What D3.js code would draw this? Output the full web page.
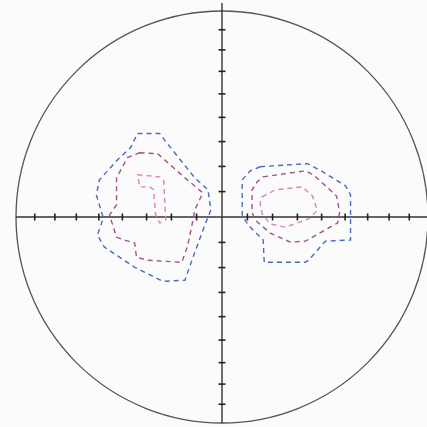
<!DOCTYPE html>
<html>
<head>
<meta charset="utf-8">
<script src="https://cdn.jsdelivr.net/npm/d3@7"></script>
<style>
html,body{margin:0;padding:0;background:#fbfbfb;}
svg{display:block;}
</style>
</head>
<body>
<svg id="chart" width="427" height="427"></svg>
<script>
// Tick marks: angular distance (deg) from the net centre, equal-area spacing
const tickAngles = [10, 20, 30, 40, 50, 60, 70, 80];

// Contour polygons in net units (-100..100, x east, y north)
const leftOuter = [[-41.0,40.5],[-30.2,40.5],[-27.3,36.6],[-13.2,19.0],[-6.8,13.2],[-5.4,3.4],[-8.3,-3.9],[-13.2,-17.1],[-18.0,-30.7],[-28.8,-31.2],[-42.4,-24.4],[-57.1,-14.6],[-60.5,-8.8],[-57.6,-0.5],[-61.0,10.7],[-59.5,18.0],[-50.7,27.8],[-44.4,33.7]];
const leftMiddle = [[-40.0,31.2],[-31.2,30.7],[-18.0,19.0],[-9.3,11.7],[-13.2,3.4],[-14.1,-1.5],[-16.6,-13.7],[-19.5,-22.0],[-36.1,-21.0],[-41.5,-19.5],[-42.4,-12.7],[-47.3,-11.2],[-51.2,-9.8],[-54.6,1.0],[-51.2,5.9],[-51.2,19.0],[-45.9,28.8]];
const leftInner = [[-41.0,20.5],[-30.2,19.5],[-28.3,17.6],[-27.3,-1.5],[-30.2,-2.9],[-32.2,1.0],[-33.2,13.2],[-35.1,14.6],[-40.0,14.6]];
const rightOuter = [[18.5,24.4],[41.5,25.9],[48.8,22.0],[60.0,15.1],[62.4,10.7],[62.4,-11.2],[50.2,-11.7],[42.0,-21.0],[40.5,-22.0],[20.5,-22.0],[20.0,-11.2],[12.7,-3.9],[9.8,1.0],[9.8,18.0],[13.7,22.4]];
const rightMiddle = [[20.0,19.5],[40.5,22.4],[44.4,20.5],[55.6,10.2],[57.1,2.4],[56.1,-2.9],[43.9,-9.8],[40.5,-11.7],[33.2,-12.2],[23.4,-7.8],[16.1,-1.5],[14.6,2.4],[14.6,13.2],[17.1,17.1]];
const rightInner = [[19.5,9.8],[25.9,13.2],[39.0,14.6],[43.9,10.2],[46.3,3.4],[42.9,-0.5],[38.0,-2.4],[30.7,-4.9],[23.4,-3.4],[19.5,1.5],[18.5,6.8]];

const levels = ["outer","middle","inner"];
const levelColors = ["#4a68c4","#a4508e","#d884c6"];

const W = 427, H = 427;
const cx = 222, cy = 217, R = 206;
const svg = d3.select("#chart");

const x = d3.scaleLinear().domain([-100,100]).range([cx-R, cx+R]);
const y = d3.scaleLinear().domain([-100,100]).range([cy+R, cy-R]);
const color = d3.scaleOrdinal().domain(levels).range(levelColors);

// equal-area radial fraction for an angle from the centre
const eqArea = a => Math.SQRT2 * Math.sin((90 - a) * Math.PI / 360) ;
// (90 - a) is angle from the primitive; we want distance from centre for plunge 90-a
const tickFrac = tickAngles.map(a => 100 * Math.SQRT2 * Math.sin(a * Math.PI / 360));

const g = svg.append("g");

// primitive circle
g.append("circle").attr("cx", cx).attr("cy", cy).attr("r", R)
  .attr("fill", "none").attr("stroke", "#555").attr("stroke-width", 1.3);

// axes
g.append("line").attr("x1", x(-100)).attr("x2", W).attr("y1", y(0)).attr("y2", y(0))
  .attr("stroke", "#333").attr("stroke-width", 1.4);
g.append("line").attr("x1", x(0)).attr("x2", x(0)).attr("y1", 3).attr("y2", y(-100))
  .attr("stroke", "#333").attr("stroke-width", 1.4);

// ticks
const tk = 3.5;
const hTicks = tickFrac.flatMap(f => [f, -f]);
g.selectAll(".ht").data(hTicks).enter().append("line")
  .attr("x1", d => x(d)).attr("x2", d => x(d))
  .attr("y1", y(0) - tk).attr("y2", y(0) + tk)
  .attr("stroke", "#222").attr("stroke-width", 1.6);
g.selectAll(".vt").data(hTicks).enter().append("line")
  .attr("y1", d => y(d)).attr("y2", d => y(d))
  .attr("x1", x(0) - tk).attr("x2", x(0) + tk)
  .attr("stroke", "#222").attr("stroke-width", 1.6);

// contours
const contours = [
  {level:"outer", pts:leftOuter},{level:"middle", pts:leftMiddle},{level:"inner", pts:leftInner},
  {level:"outer", pts:rightOuter},{level:"middle", pts:rightMiddle},{level:"inner", pts:rightInner}
];
const line = d3.line().x(d => x(d[0])).y(d => y(d[1])).curve(d3.curveLinearClosed);
g.selectAll(".ct").data(contours).enter().append("path")
  .attr("d", d => line(d.pts))
  .attr("fill", "none")
  .attr("stroke", d => color(d.level))
  .attr("stroke-width", 1.4)
  .attr("stroke-dasharray", "5,4");
</script>
</body>
</html>
